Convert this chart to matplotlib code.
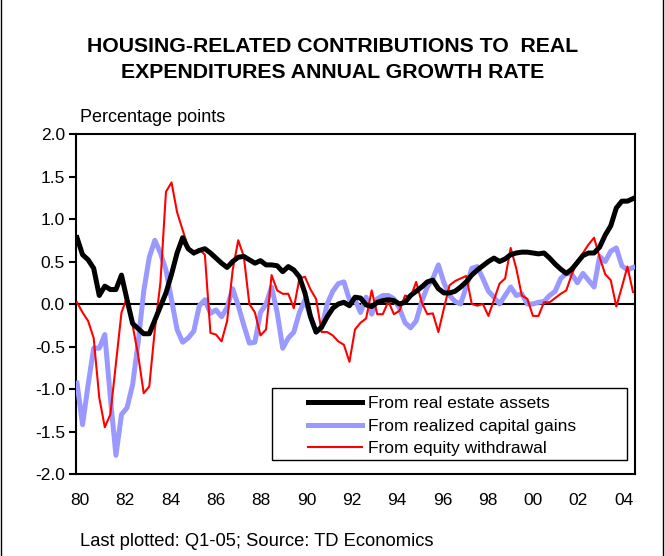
import matplotlib
matplotlib.use("Agg")
import matplotlib.pyplot as plt
from matplotlib.lines import Line2D
from matplotlib.patches import Rectangle
import numpy as np

plt.rcParams['font.family'] = ['Liberation Sans', 'DejaVu Sans']

# Quarterly data, 1980Q1 .. 2005Q1
real_estate = [
    0.78, 0.58, 0.52, 0.42, 0.10, 0.21, 0.17, 0.17, 0.34, 0.05,
    -0.23, -0.29, -0.35, -0.35, -0.19, -0.03, 0.13, 0.35, 0.60, 0.78,
    0.65, 0.60, 0.63, 0.65, 0.60, 0.54, 0.48, 0.43, 0.50, 0.55,
    0.56, 0.52, 0.48, 0.51, 0.46, 0.46, 0.45, 0.38, 0.44, 0.40,
    0.32, 0.13, -0.15, -0.33, -0.27, -0.15, -0.05, 0.00, 0.02, -0.02,
    0.08, 0.07, -0.01, -0.03, 0.02, 0.04, 0.05, 0.04, 0.00, 0.02,
    0.10, 0.15, 0.20, 0.26, 0.28, 0.18, 0.13, 0.13, 0.15, 0.20,
    0.26, 0.34, 0.40, 0.45, 0.50, 0.54, 0.50, 0.53, 0.58, 0.60,
    0.61, 0.61, 0.60, 0.59, 0.60, 0.54, 0.47, 0.41, 0.36, 0.41,
    0.49, 0.57, 0.60, 0.60, 0.67, 0.81, 0.92, 1.13, 1.21, 1.21,
    1.24,
]

capital_gains = [
    -0.93, -1.42, -0.95, -0.52, -0.52, -0.36, -1.10, -1.78, -1.30, -1.22,
    -0.95, -0.45, 0.15, 0.55, 0.75, 0.60, 0.40, 0.05, -0.30, -0.45,
    -0.40, -0.32, -0.02, 0.05, -0.11, -0.07, -0.15, -0.04, 0.18, -0.02,
    -0.25, -0.46, -0.45, -0.10, 0.00, 0.20, -0.10, -0.52, -0.40, -0.33,
    -0.10, 0.05, -0.15, -0.33, -0.28, 0.00, 0.15, 0.24, 0.26, 0.05,
    0.05, -0.10, 0.08, -0.12, 0.06, 0.10, 0.10, 0.06, -0.05, -0.22,
    -0.28, -0.20, 0.03, 0.20, 0.30, 0.46, 0.25, 0.10, 0.03, 0.00,
    0.20, 0.42, 0.44, 0.30, 0.15, 0.08, 0.00, 0.10, 0.20, 0.10,
    0.12, 0.00, 0.00, 0.02, 0.03, 0.10, 0.15, 0.30, 0.36, 0.35,
    0.25, 0.36, 0.28, 0.20, 0.56, 0.50, 0.62, 0.66, 0.45, 0.40,
    0.43,
]

equity_withdrawal = [
    0.02, -0.10, -0.20, -0.40, -1.10, -1.45, -1.30, -0.70, -0.10, 0.08,
    -0.25, -0.60, -1.05, -0.97, -0.30, 0.25, 1.32, 1.43, 1.08, 0.87,
    0.67, 0.58, 0.64, 0.58, -0.34, -0.36, -0.44, -0.20, 0.40, 0.75,
    0.56, 0.00, -0.10, -0.37, -0.30, 0.34, 0.16, 0.12, 0.12, -0.05,
    0.30, 0.32, 0.17, 0.06, -0.33, -0.33, -0.37, -0.44, -0.48, -0.68,
    -0.30, -0.22, -0.17, 0.16, -0.12, -0.12, 0.03, -0.12, -0.08, 0.10,
    0.08, 0.26, 0.02, -0.12, -0.11, -0.33, -0.05, 0.22, 0.27, 0.30,
    0.33, 0.00, -0.02, 0.00, -0.14, 0.05, 0.24, 0.30, 0.66, 0.42,
    0.10, 0.06, -0.14, -0.14, 0.02, 0.02, 0.07, 0.12, 0.16, 0.35,
    0.50, 0.60, 0.70, 0.78, 0.55, 0.35, 0.28, -0.03, 0.20, 0.44,
    0.14,
]

tick_labels = ['80', '82', '84', '86', '88', '90', '92', '94', '96', '98', '00', '02', '04']
y_ticks = [2.0, 1.5, 1.0, 0.5, 0.0, -0.5, -1.0, -1.5, -2.0]

series_names = ['From real estate assets', 'From realized capital gains', 'From equity withdrawal']

x = 1980 + np.arange(len(real_estate)) / 4.0

W, H = 665, 556
fig = plt.figure(figsize=(W / 100, H / 100), dpi=100)
ax = fig.add_axes([76 / W, 1 - 474 / H, 559 / W, 340 / H])

ax.plot(x, capital_gains, color='#9999FF', lw=3.6, solid_joinstyle='round', zorder=3)
ax.plot(x, equity_withdrawal, color='#FF0000', lw=1.5, zorder=4)
ax.plot(x, real_estate, color='black', lw=3.6, solid_joinstyle='round', zorder=5)
ax.axhline(0, color='black', lw=1.5, zorder=2)

ax.set_ylim(-2.0, 2.0)
ax.set_xlim(1980 - 0.045, 2005 + 0.09)
ax.set_yticks(y_ticks)
ax.set_yticklabels([f'{v:.1f}' for v in y_ticks], fontsize=12.5)
ax.tick_params(axis='y', direction='out', length=5, width=1.5, pad=3)

# x labels: evenly spaced every 2 years
xt = [1980.13 + 2.038 * k for k in range(len(tick_labels))]
ax.set_xticks(xt)
ax.set_xticklabels(tick_labels, fontsize=12.5)
ax.tick_params(axis='x', length=0, pad=14)

for s in ax.spines.values():
    s.set_linewidth(1.5)

# legend box drawn separately (pixel positions of the reference)
def ax_xy(px, py):
    return ((px - 76) / 559, (474 - py) / 340)

bx0, by0 = ax_xy(272, 460)
bx1, by1 = ax_xy(627, 388)
ax.add_patch(Rectangle((bx0, by0), bx1 - bx0, by1 - by0, transform=ax.transAxes,
                       facecolor='white', edgecolor='black', lw=1.0, zorder=9))

handles = [
    Line2D([], [], color='black', lw=3.6),
    Line2D([], [], color='#9999FF', lw=3.6),
    Line2D([], [], color='#FF0000', lw=1.5),
]
lx, ly = ax_xy(303, 391)
leg = ax.legend(handles, series_names, loc='upper left', bbox_to_anchor=(lx, ly),
                borderaxespad=0, frameon=False, fontsize=12.5,
                handlelength=3.1, handletextpad=0.35,
                labelspacing=0.42, borderpad=0.3)
leg.set_zorder(10)

fig.text(0.5, 1 - 46 / H, 'HOUSING-RELATED CONTRIBUTIONS TO  REAL',
         ha='center', va='center', fontsize=15.3, fontweight='bold')
fig.text(0.5, 1 - 73 / H, 'EXPENDITURES ANNUAL GROWTH RATE',
         ha='center', va='center', fontsize=15.3, fontweight='bold')
fig.text(80 / W, 1 - 117 / H, 'Percentage points', ha='left', va='center', fontsize=13)
fig.text(80 / W, 1 - 542 / H, 'Last plotted: Q1-05; Source: TD Economics',
         ha='left', va='center', fontsize=13.2)

# figure border lines (left and right)
fig.add_artist(Line2D([0.002, 0.002], [0, 1], transform=fig.transFigure, color='black', lw=1))
fig.add_artist(Line2D([0.997, 0.997], [0, 1], transform=fig.transFigure, color='black', lw=1))

fig.savefig('out.png', dpi=100)
